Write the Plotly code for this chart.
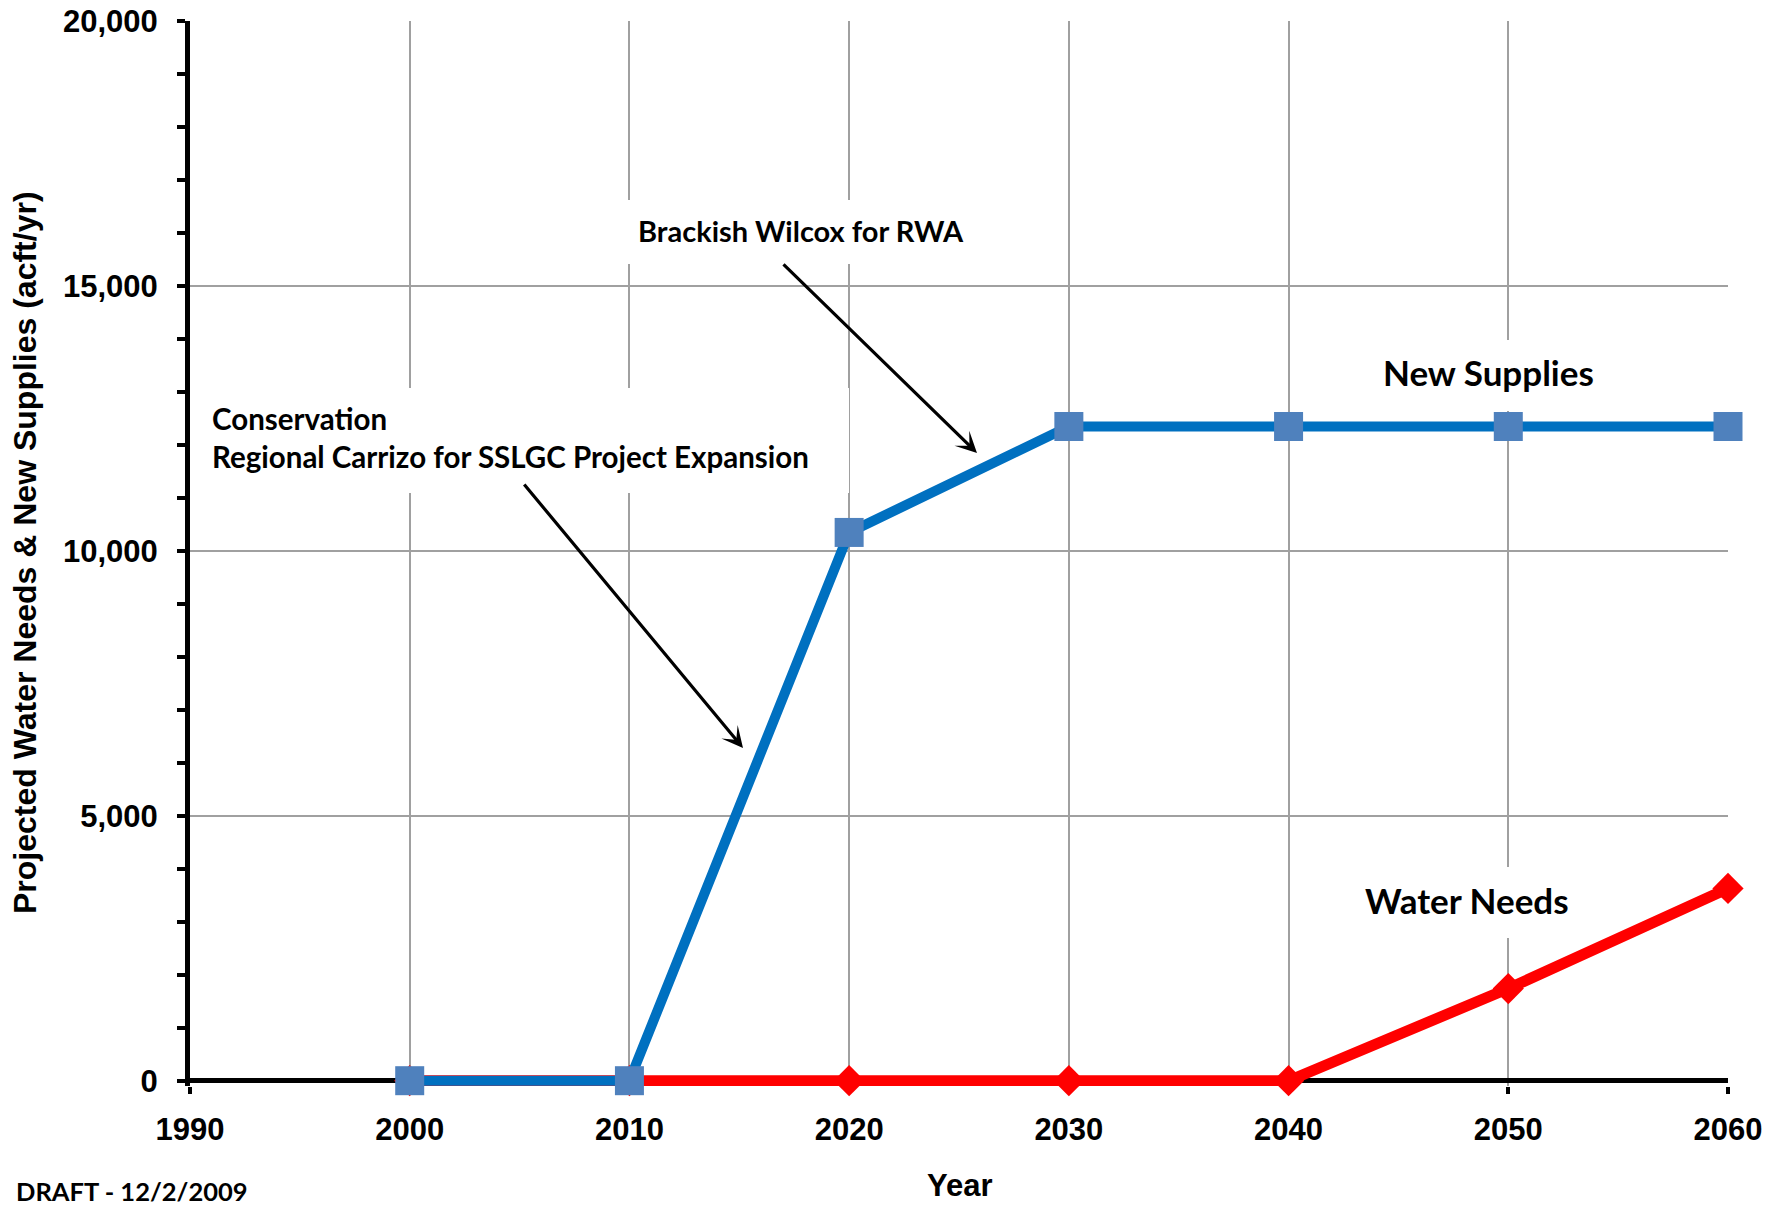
import plotly.graph_objects as go

# ---- data ----
years = [2000, 2010, 2020, 2030, 2040, 2050, 2060]
new_supplies = [0, 0, 10350, 12350, 12350, 12350, 12350]
water_needs = [0, 0, 0, 0, 0, 1740, 3630]
x_ticks = [1990, 2000, 2010, 2020, 2030, 2040, 2050, 2060]
y_ticks = [0, 5000, 10000, 15000, 20000]
y_tick_labels = ["0", "5,000", "10,000", "15,000", "20,000"]

# ---- layout geometry (page pixels; body margin removed in post_script) ----
OFF = 0
PAGE_W, PAGE_H = 1788, 1207
W_FIG, H_FIG = PAGE_W - 2 * OFF, PAGE_H - 2 * OFF
PLOT_L, PLOT_R, PLOT_T = 190, 1728, 21          # page pixels
PH = 1065                                        # plot height (y range -100..20000)
M_L = PLOT_L - OFF
M_T = PLOT_T - OFF
M_R = W_FIG - (PLOT_R - OFF)
M_B = H_FIG - M_T - PH
PW = W_FIG - M_L - M_R


def px(x):
    return (x - OFF - M_L) / PW


def py(y):
    return (H_FIG - M_B - (y - OFF)) / PH


ARIAL = "Liberation Sans, Arial, sans-serif"
CAL = "Lato, Carlito, Calibri, sans-serif"
GRID = "#A0A0A0"

fig = go.Figure()
fig.add_trace(go.Scatter(
    x=years, y=water_needs, mode="lines+markers", name="Water Needs",
    line=dict(color="#FF0000", width=11),
    marker=dict(symbol="diamond", size=24, color="#FF0000"),
    cliponaxis=False, hoverinfo="x+y"))
fig.add_trace(go.Scatter(
    x=years, y=new_supplies, mode="lines+markers", name="New Supplies",
    line=dict(color="#0070C0", width=10),
    marker=dict(symbol="square", size=29, color="#4F81BD"),
    cliponaxis=False, hoverinfo="x+y"))

shapes = []
# white label boxes that hide grid lines behind text
for (x0, y0, x1, y1) in [(615, 200, 1067, 264), (191, 388, 849, 493),
                         (1380, 340, 1600, 411), (1350, 867, 1590, 938)]:
    shapes.append(dict(type="rect", xref="paper", yref="paper",
                       x0=px(x0), x1=px(x1), y0=py(y1), y1=py(y0),
                       fillcolor="white", line=dict(width=0), layer="above"))

ann = []


def label(text, x, y, size, family=CAL, xanchor="center", align="center", angle=0):
    ann.append(dict(text=text, xref="paper", yref="paper", x=px(x), y=py(y),
                    xanchor=xanchor, yanchor="middle", align=align, showarrow=False,
                    textangle=angle,
                    font=dict(family=family, size=size, color="black", weight="bold")))


label("Brackish Wilcox for RWA", 636, 231, 29, xanchor="left", align="left")
label("Conservation<br>Regional Carrizo for SSLGC Project Expansion", 210, 437, 29.5,
      xanchor="left", align="left")
label("New Supplies", 1488, 372, 35)
label("Water Needs", 1467, 900, 35)
label("DRAFT - 12/2/2009", 14, 1191, 25.5, xanchor="left", align="left")
label("Year", 960, 1185, 31, family=ARIAL)
label("Projected Water Needs &amp; New Supplies (acft/yr)", 25, 553, 32, family=ARIAL, angle=-90)

# arrows
for (tx, ty, sx, sy) in [(977, 453, 782, 263), (743, 748, 523, 483)]:
    ann.append(dict(text="", xref="paper", yref="paper", x=px(tx), y=py(ty),
                    ax=sx - tx, ay=sy - ty, showarrow=True, arrowhead=3,
                    arrowsize=1.1, arrowwidth=3.2, arrowcolor="black", standoff=0))

fig.update_layout(
    width=W_FIG, height=H_FIG,
    margin=dict(l=M_L, r=M_R, t=M_T, b=M_B, pad=0, autoexpand=False),
    paper_bgcolor="white", plot_bgcolor="white",
    showlegend=False,
    shapes=shapes, annotations=ann,
    xaxis=dict(range=[1990, 2060], tickmode="array", tickvals=x_ticks,
               showgrid=True, gridcolor=GRID, gridwidth=1.5,
               showline=False, zeroline=False, automargin=False,
               ticks="outside", ticklen=7, tickwidth=4, tickcolor="black",
               ticklabelstandoff=9, ticklabeloverflow="allow",
               tickfont=dict(family=ARIAL, size=31, color="black", weight="bold"),
               layer="below traces"),
    yaxis=dict(range=[-100, 20005], tickmode="array", tickvals=y_ticks, ticktext=y_tick_labels,
               showgrid=True, gridcolor=GRID, gridwidth=1.5,
               zeroline=True, zerolinecolor="black", zerolinewidth=5,
               showline=True, linecolor="black", linewidth=5, automargin=False,
               ticks="outside", ticklen=8, tickwidth=4, tickcolor="black",
               ticklabelstandoff=13, ticklabeloverflow="allow",
               minor=dict(dtick=1000, tick0=0, ticks="outside", ticklen=8, tickwidth=4,
                          tickcolor="black", showgrid=False),
               tickfont=dict(family=ARIAL, size=31, color="black", weight="bold"),
               layer="below traces"),
)

fig.write_html("out.html",
               config={"displayModeBar": False},
               post_script="document.body.style.margin='0px';document.body.style.overflow='hidden';")
